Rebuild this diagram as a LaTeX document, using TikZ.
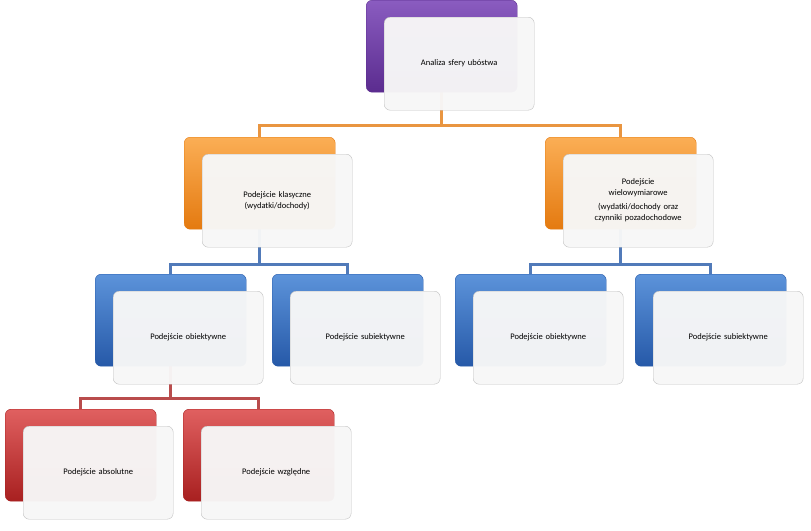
\documentclass[tikz,border=0pt]{standalone}
\usepackage{fontspec}
\setmainfont{Carlito}
\usetikzlibrary{backgrounds,calc}
\definecolor{violetA}{HTML}{8A5CC0}
\definecolor{violetB}{HTML}{5B2C8F}
\definecolor{orangeA}{HTML}{FBAE55}
\definecolor{orangeB}{HTML}{E47A10}
\definecolor{blueA}{HTML}{5C93DA}
\definecolor{blueB}{HTML}{2659A8}
\definecolor{redA}{HTML}{E06060}
\definecolor{redB}{HTML}{A82020}
\tikzset{
  backbox/.style 2 args={rounded corners=6pt, minimum width=151pt, minimum height=92pt,
    top color=#1, bottom color=#2, draw=#2, anchor=north west, inner sep=0pt},
  frontbox/.style={rounded corners=6pt, minimum width=150pt, minimum height=93pt,
    fill=white!97!black, fill opacity=0.97, text opacity=1, draw=black!25, anchor=north west,
    text width=135pt, align=center, font=\fontsize{8.5}{11}\selectfont, inner sep=0pt},
  conn/.style={line width=3.5pt, #1}
}
% back box + front box
\newcommand{\orgbox}[6]{%
  \node[backbox={#4}{#5}] (b#1) at (#2,#3) {};
  \node[frontbox] (f#1) at ($(#2,#3)+(18,17)$) {#6};
}
\begin{document}
\begin{tikzpicture}[x=1pt,y=-1pt]
  \useasboundingbox (0,0) rectangle (811,530);
  % level 0 and 1
  \orgbox{0}{366}{0}{violetA}{violetB}{Analiza sfery ubóstwa}
  \orgbox{1}{184}{137}{orangeA}{orangeB}{Podejście klasyczne\\(wydatki/dochody)}
  \orgbox{2}{545}{137}{orangeA}{orangeB}{Podejście\\wielowymiarowe\\[3pt](wydatki/dochody oraz\\czynniki pozadochodowe}
  % level 2
  \orgbox{3}{95}{274}{blueA}{blueB}{Podejście obiektywne}
  \orgbox{4}{272}{274}{blueA}{blueB}{Podejście subiektywne}
  \orgbox{5}{455}{274}{blueA}{blueB}{Podejście obiektywne}
  \orgbox{6}{635}{274}{blueA}{blueB}{Podejście subiektywne}
  % level 3
  \orgbox{7}{5}{409}{redA}{redB}{Podejście absolutne}
  \orgbox{8}{183}{409}{redA}{redB}{Podejście względne}
  % connectors
  \begin{scope}[on background layer]
    \draw[conn=orangeB!80] (b0.south) -- ++(0,33) -| (b1.north);
    \draw[conn=orangeB!80] (b0.south) -- ++(0,33) -| (b2.north);
    \draw[conn=blueB!80] (b1.south) -- ++(0,35) -| (b3.north);
    \draw[conn=blueB!80] (b1.south) -- ++(0,35) -| (b4.north);
    \draw[conn=blueB!80] (b2.south) -- ++(0,35) -| (b5.north);
    \draw[conn=blueB!80] (b2.south) -- ++(0,35) -| (b6.north);
    \draw[conn=redB!80] (b3.south) -- ++(0,32) -| (b7.north);
    \draw[conn=redB!80] (b3.south) -- ++(0,32) -| (b8.north);
  \end{scope}
\end{tikzpicture}
\end{document}
